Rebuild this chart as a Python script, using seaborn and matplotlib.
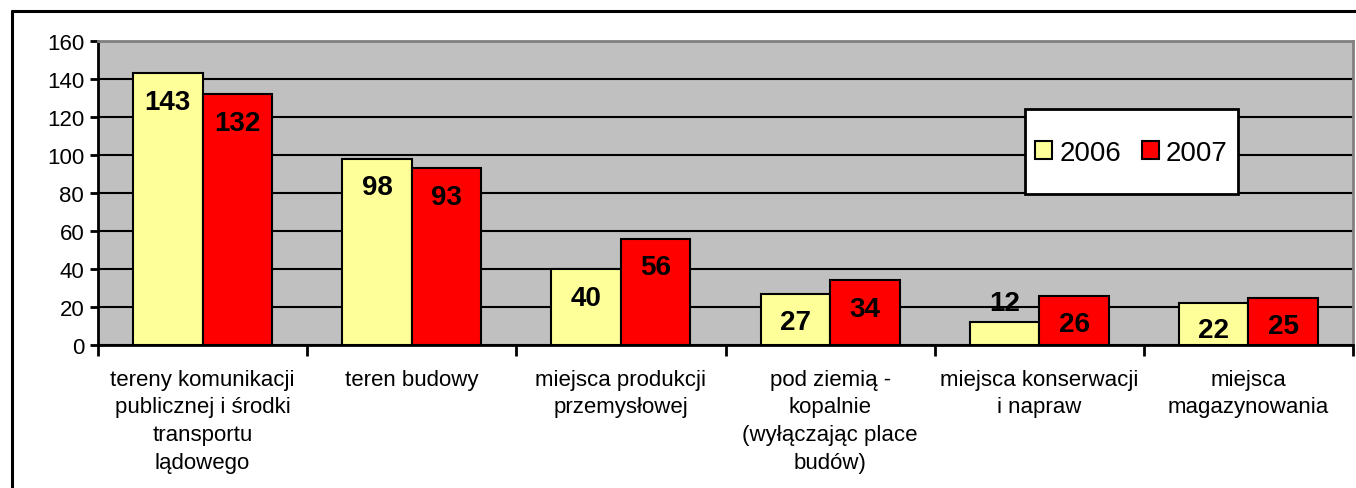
import pandas as pd
import matplotlib.pyplot as plt
import seaborn as sns
from matplotlib.lines import Line2D
from matplotlib.patches import Patch, Rectangle

categories = [
    "tereny komunikacji\npublicznej i środki\ntransportu\nlądowego",
    "teren budowy",
    "miejsca produkcji\nprzemysłowej",
    "pod ziemią -\nkopalnie\n(wyłączając place\nbudów)",
    "miejsca konserwacji\ni napraw",
    "miejsca\nmagazynowania",
]
years = ["2006", "2007"]
values_2006 = [143, 98, 40, 27, 12, 22]
values_2007 = [132, 93, 56, 34, 26, 25]
colors = {"2006": "#FFFF99", "2007": "#FF0000"}

df = pd.DataFrame({
    "Kategoria": categories * 2,
    "Rok": ["2006"] * len(categories) + ["2007"] * len(categories),
    "Liczba": values_2006 + values_2007,
})

sns.set_theme(style="white", rc={"text.color": "black",
                                 "xtick.labelcolor": "black",
                                 "ytick.labelcolor": "black"})
plt.rcParams["font.family"] = ["Liberation Sans", "DejaVu Sans"]

fig = plt.figure(figsize=(13.56, 4.89), dpi=100)
ax = fig.add_axes([0.0723, 0.2924, 0.9255, 0.6217])
ax.set_facecolor("#C0C0C0")

sns.barplot(data=df, x="Kategoria", y="Liczba", hue="Rok", order=categories,
            hue_order=years, palette=colors, width=0.665, gap=0,
            edgecolor="black", linewidth=1.5, saturation=1, ax=ax,
            legend=False, errorbar=None)

ax.set_ylim(0, 160)
ax.set_xlim(-0.5, len(categories) - 0.5)
ax.set_yticks(range(0, 161, 20))
ax.set_axisbelow(True)
ax.yaxis.grid(True, color="black", linewidth=1.5)
ax.set_xlabel("")
ax.set_ylabel("")

# data labels inside the top of each bar (above it if the bar is too short)
for container, vals in zip(ax.containers, [values_2006, values_2007]):
    for bar, v in zip(container, vals):
        x = bar.get_x() + bar.get_width() / 2
        y = v - 15 if v >= 20 else v + 10
        y = max(y, 8)
        ax.text(x, y, str(v), ha="center", va="center", fontsize=20,
                fontweight="bold", color="black")

# axes styling
for side in ["top", "right"]:
    ax.spines[side].set_color("#808080")
    ax.spines[side].set_linewidth(2)
for side in ["left", "bottom"]:
    ax.spines[side].set_color("black")
    ax.spines[side].set_linewidth(2)

ax.tick_params(axis="y", which="major", left=True, length=6, width=2,
               color="black", labelsize=16, pad=4)
ax.set_xticks(range(len(categories)))
ax.set_xticklabels(categories, fontsize=16, linespacing=1.42, va="top")
ax.tick_params(axis="x", which="major", bottom=False, length=0, pad=17)
ax.set_xticks([i - 0.5 for i in range(len(categories) + 1)], minor=True)
ax.tick_params(axis="x", which="minor", bottom=True, length=8, width=2,
               color="black")

# legend box (Excel style: wide vertical padding)
ax.add_patch(Rectangle((0.7386, 0.4967), 0.1698, 0.2793, transform=ax.transAxes,
                       facecolor="white", edgecolor="black", linewidth=2,
                       zorder=5))
handles = [Patch(facecolor=colors[y], edgecolor="black", linewidth=1.5, label=y)
           for y in years]
leg = ax.legend(handles=handles, loc="center", bbox_to_anchor=(0.8235, 0.632),
                ncol=2, fontsize=20, frameon=False,
                handlelength=0.62, handleheight=0.62, handletextpad=0.25,
                columnspacing=0.75, borderpad=0, borderaxespad=0)
leg.set_zorder(6)

# outer chart frame
fx = 12 / 1356
fy = 1 - 12 / 489
fig.add_artist(Line2D([fx, 1.0], [fy, fy], color="black", linewidth=2.2,
                      transform=fig.transFigure))
fig.add_artist(Line2D([fx, fx], [0.0, fy], color="black", linewidth=2.2,
                      transform=fig.transFigure))

fig.savefig("out.png", dpi=100, facecolor="white")
